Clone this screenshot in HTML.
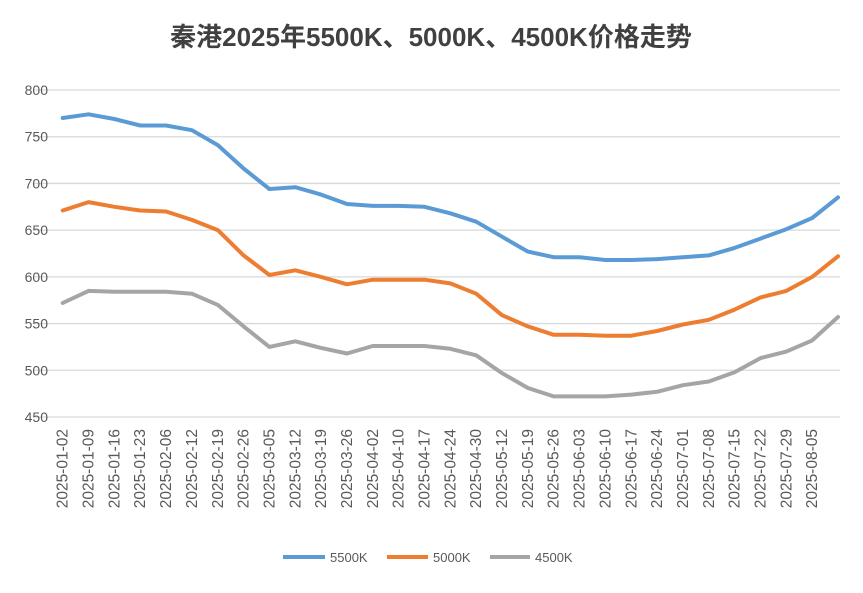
<!DOCTYPE html>
<html><head><meta charset="utf-8"><style>
body{margin:0;background:#fff;width:863px;height:588px;overflow:hidden;font-family:"Liberation Sans","Noto Sans CJK SC",sans-serif}
</style></head><body>
<svg id="chart" width="863" height="588" xmlns="http://www.w3.org/2000/svg">
<text x="431" y="46" text-anchor="middle" font-size="26" font-weight="bold" fill="#404040" font-family="Liberation Sans, Noto Sans CJK SC, sans-serif">秦港2025年5500K、5000K、4500K价格走势</text>
<g id="grid"></g><g id="yticks"></g><g id="xticks"></g><g id="series"></g>
<g font-size="13" fill="#595959">
<line x1="283" y1="557" x2="325" y2="557" stroke="#5b9bd5" stroke-width="4"/><text x="330" y="562">5500K</text>
<line x1="387" y1="557" x2="428" y2="557" stroke="#ed7d31" stroke-width="4"/><text x="433" y="562">5000K</text>
<line x1="490" y1="557" x2="530" y2="557" stroke="#a5a5a5" stroke-width="4"/><text x="535" y="562">4500K</text>
</g>
</svg>
<script>
const labels=["2025-01-02","2025-01-09","2025-01-16","2025-01-23","2025-02-06","2025-02-12","2025-02-19","2025-02-26","2025-03-05","2025-03-12","2025-03-19","2025-03-26","2025-04-02","2025-04-10","2025-04-17","2025-04-24","2025-04-30","2025-05-12","2025-05-19","2025-05-26","2025-06-03","2025-06-10","2025-06-17","2025-06-24","2025-07-01","2025-07-08","2025-07-15","2025-07-22","2025-07-29","2025-08-05"];
const yTicks=[450,500,550,600,650,700,750,800];
const s5500=[770,774,769,762,762,757,741,716,694,696,688,678,676,676,675,668,659,643,627,621,621,618,618,619,621,623,631,641,651,663,685];
const s5000=[671,680,675,671,670,661,650,623,602,607,600,592,597,597,597,593,582,559,547,538,538,537,537,542,549,554,565,578,585,600,622];
const s4500=[572,585,584,584,584,582,570,547,525,531,524,518,526,526,526,523,516,497,481,472,472,472,474,477,484,488,498,513,520,532,557];
const NS="http://www.w3.org/2000/svg";
const N=151, step=5;
const x0=62.7,x1=838;
function xs(i){return x0+i*(x1-x0)/(N-1);}
function ys(v){return 90+(800-v)*(327/350);}
function mk(t,a,p){const e=document.createElementNS(NS,t);for(const k in a)e.setAttribute(k,a[k]);p.appendChild(e);return e;}
const grid=document.getElementById('grid'),yt=document.getElementById('yticks'),xt=document.getElementById('xticks'),sg=document.getElementById('series');
yTicks.forEach(v=>{
 const l=mk('line',{x1:33,x2:840,y1:ys(v),y2:ys(v),stroke:'#d9d9d9','stroke-width':1.3},grid);
 
 
 const t=mk('text',{x:48,y:ys(v)+5,'text-anchor':'end','font-size':14,fill:'#595959'},yt);
 
 
 t.textContent=v;
});
labels.forEach((s,k)=>{
 const x=xs(k*step)+5;
 const t=mk('text',{x:0,y:0,'text-anchor':'end','font-size':15.5,fill:'#595959',transform:`translate(${x},429) rotate(-90)`},xt);
 
 
 t.textContent=s;
});
[[s5500,'#5b9bd5','series-5500k'],[s5000,'#ed7d31','series-5000k'],[s4500,'#a5a5a5','series-4500k']].forEach(([d,c,n])=>{
 const pts=d.map((v,j)=>{const i=Math.min(j*step,N-1);return xs(i).toFixed(1)+','+ys(v).toFixed(1);}).join(' ');
 const p=mk('polyline',{points:pts,fill:'none',stroke:c,'stroke-width':4,'stroke-linejoin':'round','stroke-linecap':'round'},sg);
 
 
});
</script>
</body></html>
